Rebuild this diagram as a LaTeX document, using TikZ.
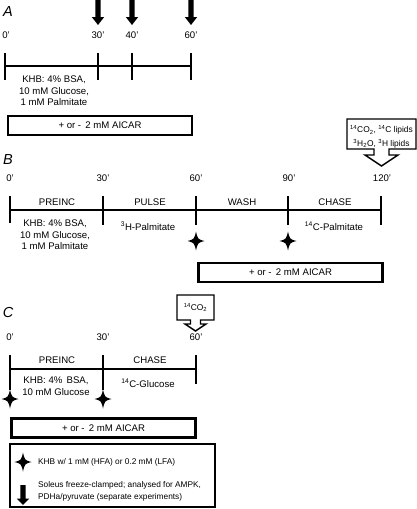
\documentclass[tikz,border=0pt]{standalone}
\usepackage{fontspec}
\setmainfont{Liberation Sans}
\begin{document}
\begin{tikzpicture}[x=1pt,y=-1pt,
  lbl/.style={font=\fontsize{9.6}{11.4}\selectfont, inner sep=0pt, align=center},
  leg/.style={font=\fontsize{8.3}{12}\selectfont, inner sep=0pt, anchor=west, align=left},
  cal/.style={font=\fontsize{8.4}{13.5}\selectfont, inner sep=0pt, align=center},
  panel/.style={font=\fontsize{14.5}{14.5}\selectfont\itshape, inner sep=0pt},
  tl/.style={line width=2.2pt},
  aicar/.style={draw, line width=2.1pt, minimum width=184pt, minimum height=19pt, inner sep=0pt, font=\fontsize{9.6}{11.4}\selectfont},
  callout/.style={draw, line width=1.4pt, fill=white, line join=miter},
  fstar/.pic={\fill (0,-9.5) .. controls (1.8,-1.8) .. (8.5,0) .. controls (1.8,1.8) .. (0,9.5) .. controls (-1.8,1.8) .. (-8.5,0) .. controls (-1.8,-1.8) .. cycle;},
  darrow/.pic={\fill (-2.6,0) -- (-2.6,17) -- (-6.2,17) -- (0,25) -- (6.2,17) -- (2.6,17) -- (2.6,0) -- cycle;}
]
\useasboundingbox (0,0) rectangle (417,509);

% ---------------- Panel A ----------------
\node[panel] (pA) at (8,12) {A};
\pic at (98,0) {darrow};
\pic at (132,0) {darrow};
\pic at (191,0) {darrow};
\node[lbl] (tA0) at (6,35) {0'};
\node[lbl] (tA30) at (98,35) {30'};
\node[lbl] (tA40) at (132,35) {40'};
\node[lbl] (tA60) at (191,35) {60'};
\draw[tl] (5,66) -- (191,66);
\foreach \x in {5,98,132,191} \draw[tl] (\x,53) -- (\x,80);
\node[lbl, anchor=north] (khbA) at (54,76) {KHB: 4\% BSA,\\10 mM Glucose,\\1 mM Palmitate};
\node[aicar] (aicarA) at (100,125.5) {+ or -\, 2 mM AICAR};

% ---------------- Panel B ----------------
\node[panel] (pB) at (8,160) {B};
\node[lbl] (tB0) at (10,178) {0'};
\node[lbl] (tB30) at (103,178) {30'};
\node[lbl] (tB60) at (196,178) {60'};
\node[lbl] (tB90) at (289,178) {90'};
\node[lbl] (tB120) at (382,178) {120'};
\draw[tl] (10,210) -- (381,210);
\draw[tl] (10,196) -- (10,223);
\foreach \x in {103,196,288,381} \draw[tl] (\x,196) -- (\x,225);
\node[lbl] (preB) at (57,202) {PREINC};
\node[lbl] (pulse) at (150,202) {PULSE};
\node[lbl] (wash) at (242,202) {WASH};
\node[lbl] (chaseB) at (335,202) {CHASE};
\node[lbl, anchor=north] (khbB) at (55,220) {KHB: 4\% BSA,\\10 mM Glucose,\\1 mM Palmitate};
\node[lbl] (hpal) at (148,226) {\textsuperscript{3}H-Palmitate};
\node[lbl] (cpal) at (334,226) {\textsuperscript{14}C-Palmitate};
\pic at (196,241) {fstar};
\pic at (288,241) {fstar};
\node[aicar] (aicarB) at (290.5,272.5) {+ or -\, 2 mM AICAR};
\draw[callout] (347,119) -- (416,119) -- (416,149) -- (389,149) -- (389,155) -- (398,155) -- (381.5,166) -- (365,155) -- (374,155) -- (374,149) -- (347,149) -- cycle;
\node[cal] (outB) at (381.5,137) {\textsuperscript{14}CO\textsubscript{2}, \textsuperscript{14}C lipids\\\textsuperscript{3}H\textsubscript{2}O, \textsuperscript{3}H lipids};

% ---------------- Panel C ----------------
\node[panel] (pC) at (8,313) {C};
\draw[callout] (177,295) -- (214,295) -- (214,320) -- (200.5,320) -- (200.5,324) -- (206,324) -- (195.5,331) -- (185,324) -- (190.5,324) -- (190.5,320) -- (177,320) -- cycle;
\node[cal] (outC) at (195.5,307.5) {\textsuperscript{14}CO\textsubscript{2}};
\node[lbl] (tC0) at (10,337) {0'};
\node[lbl] (tC30) at (103,337) {30'};
\node[lbl] (tC60) at (196,337) {60'};
\draw[tl] (10,369) -- (196,369);
\draw[tl] (10,355) -- (10,390);
\draw[tl] (103,355) -- (103,390);
\draw[tl] (196,355) -- (196,384);
\node[lbl] (preC) at (57,360) {PREINC};
\node[lbl] (chaseC) at (150,360) {CHASE};
\node[lbl, anchor=north] (khbC) at (56,377) {KHB: 4\%\, BSA,\\10 mM Glucose};
\node[lbl] (cglu) at (148,383) {\textsuperscript{14}C-Glucose};
\pic at (10,399) {fstar};
\pic at (103,399) {fstar};
\node[aicar] (aicarC) at (103.5,428) {+ or -\, 2 mM AICAR};

% ---------------- Legend ----------------
\node[draw, line width=2.1pt, minimum width=205pt, minimum height=63pt, inner sep=0pt] (legend) at (112.5,475.5) {};
\pic at (23,462) {fstar};
\node[leg] (legstar) at (38,462) {KHB w/ 1 mM (HFA) or 0.2 mM (LFA)};
\pic[yscale=0.8] at (23,485) {darrow};
\node[leg] (legarrow) at (38,491) {Soleus freeze-clamped; analysed for AMPK,\\PDHa/pyruvate (separate experiments)};
\end{tikzpicture}
\end{document}
